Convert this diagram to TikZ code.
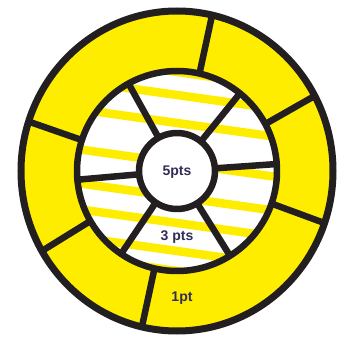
\documentclass[tikz,border=0pt]{standalone}
\usepackage{fontspec}
\setmainfont{Liberation Sans}
\usepackage{tikz}
\usetikzlibrary{calc}
\usepackage{xcolor}
\definecolor{ringY}{RGB}{255,237,0}
\definecolor{ringK}{RGB}{35,31,32}
\definecolor{labelC}{RGB}{50,45,85}

\begin{document}
\begin{tikzpicture}[x=1pt, y=1pt, line join=round,
  ringline/.style={ringK, line width=6.5pt},
  ptlabel/.style={font=\fontsize{14}{14}\selectfont\bfseries, text=labelC, inner sep=0pt}]
  \useasboundingbox (-177,-169) rectangle (166,171);
  \fill[white] (-177,-169) rectangle (166,171);
  \def\rin{38} \def\rmid{100}

  % Outer yellow ring (1 pt)
  \fill[ringY, even odd rule] (0,0) ellipse [x radius=156, y radius=160]
    (0,0) circle (\rmid);

  % Striped inner ring (3 pts)
  \begin{scope}[even odd rule]
    \clip (0,0) circle (\rmid) (0,0) circle (\rin);
    \foreach \c in {99,76,48,8,-26,-52,-80,-100}
      \draw[ringY, line width=8.5pt] (-110, {\c+0.14*110}) -- (110, {\c-0.14*110});
  \end{scope}

  % Spokes
  \foreach \a in {77,28,-19,-103,-150,162}
    \draw[ringline] (\a:\rmid) -- (\a:156 and 160);
  \foreach \a in {119,51,4,-58,-124,185}
    \draw[ringline] (\a:\rin) -- (\a:\rmid);

  % Rings
  \draw[ringline, line width=7pt] (0,0) ellipse [x radius=156, y radius=160];
  \draw[ringline] (0,0) circle (\rmid);
  \draw[ringline] (0,0) circle (\rin);

  \node[ptlabel] (five) at (0,-1) {5pts};
  \node[ptlabel] (three) at (0,-66) {3 pts};
  \node[ptlabel] (one) at (5,-127) {1pt};
\end{tikzpicture}
\end{document}
